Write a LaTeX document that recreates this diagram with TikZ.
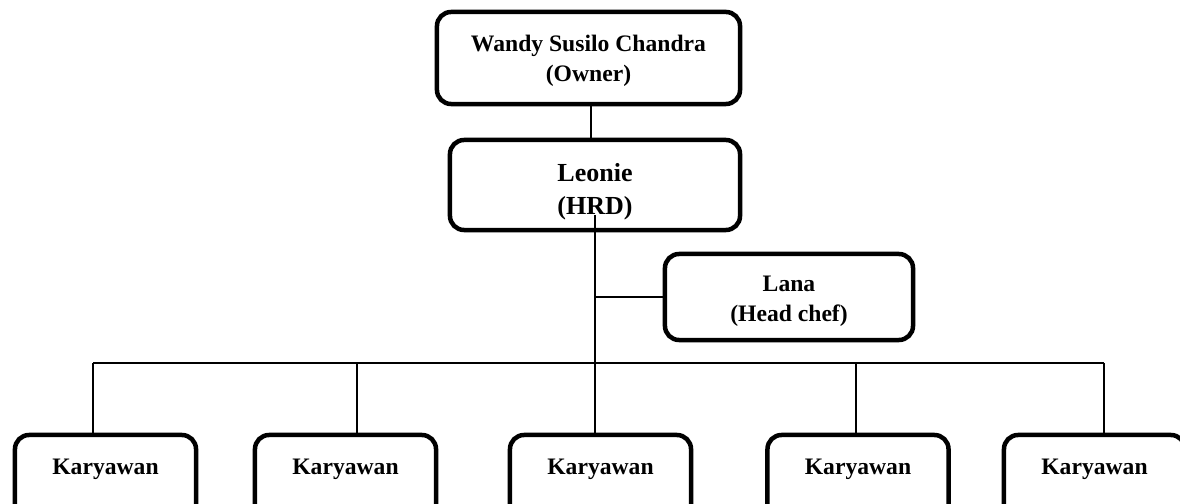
\documentclass[tikz,border=0pt]{standalone}
\usepackage{fontspec}
\setmainfont{Liberation Serif}
\usetikzlibrary{calc}

\tikzset{
  orgbox/.style={draw, line width=3.2pt, rounded corners=10pt, align=center,
    outer sep=0pt, inner sep=0pt, font=\bfseries\fontsize{16.8}{21.3}\selectfont},
  karbox/.style={draw, line width=3.2pt, rounded corners=10pt, anchor=north,
    outer sep=0pt, inner sep=0pt, minimum width=4.525cm,
    text height=0.975cm, text depth=1.275cm,
    font=\bfseries\fontsize{16.8}{21.3}\selectfont},
  link/.style={line width=1.2pt}
}

\begin{document}
\begin{tikzpicture}[x=0.025cm, y=-0.025cm]

\useasboundingbox (0,0) rectangle (1180,504);
\clip (0,0) rectangle (1180,504);

\node[orgbox, minimum width=7.575cm, minimum height=2.3cm] (owner) at (588.5,58) {\rule{0pt}{15.4pt}Wandy Susilo Chandra\\(Owner)};

\node[orgbox, minimum width=7.25cm, minimum height=2.25cm, font=\bfseries\fontsize{18.5}{23.5}\selectfont] (leonie) at (595,185) {\rule{0pt}{22.8pt}Leonie\\(HRD)};

\node[orgbox, minimum width=6.2cm, minimum height=2.15cm] (lana) at (789,297) {\rule{0pt}{17.1pt}Lana\\(Head chef)};

\node[karbox] (k1) at (105.5,435) {Karyawan};
\node[karbox] (k2) at (345.5,435) {Karyawan};
\node[karbox] (k3) at (600.5,435) {Karyawan};
\node[karbox] (k4) at (858,435) {Karyawan};
\node[karbox] (k5) at (1094.5,435) {Karyawan};

\coordinate (m1) at (591,0);
\coordinate (d1) at (93,363);
\coordinate (d2) at (357,363);
\coordinate (d4) at (856,363);
\coordinate (d5) at (1104,363);

\draw[link] (owner.south -| m1) -- (leonie.north -| m1);

\draw[link] ($(leonie.south)+(0,-15)$) -- (leonie.south |- k3.north);

\draw[link] (lana.west) -- (lana.west -| leonie.south);

\draw[link] (d1) -- (d5);

\draw[link] (d1) -- (d1 |- k1.north);
\draw[link] (d2) -- (d2 |- k2.north);
\draw[link] (d4) -- (d4 |- k4.north);
\draw[link] (d5) -- (d5 |- k5.north);

\end{tikzpicture}
\end{document}
